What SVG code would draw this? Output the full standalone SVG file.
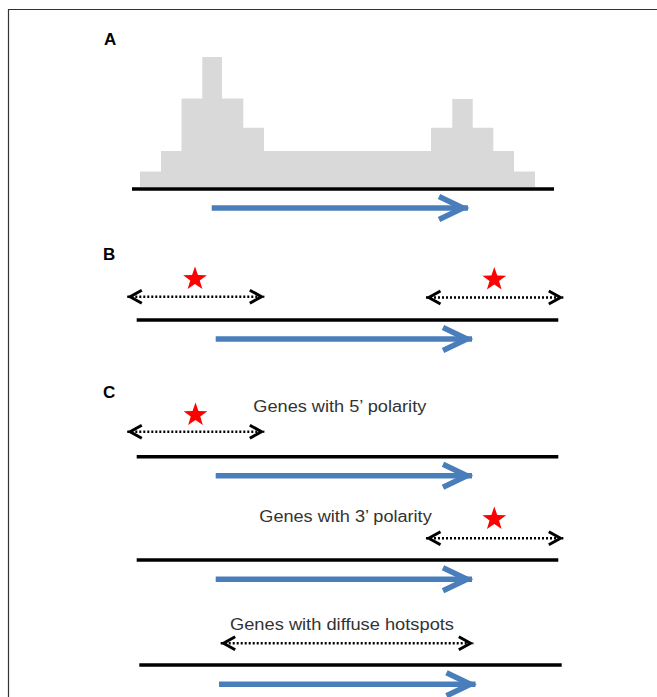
<svg xmlns="http://www.w3.org/2000/svg" width="657" height="697" viewBox="0 0 657 697">
<style>
.lbl{font-family:"Liberation Sans",Arial,sans-serif;font-weight:bold;font-size:17px;fill:#000}
.cap{font-family:"Liberation Sans",Arial,sans-serif;font-size:16px;fill:#333}
.gene{stroke:#000;stroke-width:3.5;fill:none}
.tx{stroke:#4a7ebb;stroke-width:5.5;fill:none;marker-end:url(#blueHead)}
.dot{stroke:#000;stroke-width:2.6;stroke-dasharray:2 2;fill:none;marker-start:url(#blackHead);marker-end:url(#blackHead)}
.star{fill:#ff0000}
.hist{fill:#d9d9d9}
</style>
<defs>
<marker id="blueHead" markerUnits="userSpaceOnUse" orient="auto" markerWidth="40" markerHeight="40" refX="0" refY="0" viewBox="-30 -15 40 30" overflow="visible">
<path d="M-29,-11.5 L-5,0 L-29,11.5" fill="none" stroke="#4a7ebb" stroke-width="5.5"/>
</marker>
<marker id="blackHead" markerUnits="userSpaceOnUse" orient="auto-start-reverse" markerWidth="20" markerHeight="20" refX="0" refY="0" viewBox="-16 -8 20 16" overflow="visible">
<path d="M-14.5,-6.5 L-2.8,0 L-14.5,6.5" fill="none" stroke="#000" stroke-width="3"/>
</marker>
<path id="starShape" d="M0,-12.5 L2.94,-4.05 L11.89,-3.86 L4.75,1.54 L7.35,10.11 L0,5 L-7.35,10.11 L-4.75,1.54 L-11.89,-3.86 L-2.94,-4.05 Z"/>
</defs>
<rect x="0" y="0" width="657" height="697" fill="#fff"/>
<path d="M8.5,697 L8.5,9.5 L657,9.5" fill="none" stroke="#333" stroke-width="1.2"/>

<g id="panelA">
<text class="lbl" x="104" y="45">A</text>
<path class="hist" d="M140,187 L140,171.5 L161,171.5 L161,151 L181.5,151 L181.5,98.5 L202.3,98.5 L202.3,57 L222,57 L222,98.5 L243.3,98.5 L243.3,127.7 L264,127.7 L264,151 L431,151 L431,127.7 L452.3,127.7 L452.3,99 L472.7,99 L472.7,127.7 L493.3,127.7 L493.3,151 L514,151 L514,171.5 L535,171.5 L535,187 Z"/>
<line class="gene" x1="132" y1="189" x2="554" y2="189"/>
<line class="tx" x1="211.7" y1="208" x2="468" y2="208"/>
</g>

<g id="panelB">
<text class="lbl" x="103" y="260">B</text>
<line class="gene" x1="136.7" y1="320" x2="558.3" y2="320"/>
<line class="tx" x1="215.7" y1="339" x2="472" y2="339"/>
<line class="dot" x1="127.3" y1="296.7" x2="264.3" y2="296.7"/>
<line class="dot" x1="426" y1="297.5" x2="563.3" y2="297.5"/>
<use class="star" href="#starShape" x="195" y="279"/>
<use class="star" href="#starShape" x="494.3" y="279.5"/>
</g>

<g id="panelC1">
<text class="lbl" x="103" y="398">C</text>
<text class="cap" x="253.3" y="411.5" textLength="173" lengthAdjust="spacingAndGlyphs">Genes with 5’ polarity</text>
<line class="dot" x1="127.3" y1="431.7" x2="264.3" y2="431.7"/>
<use class="star" href="#starShape" x="195.5" y="415"/>
<line class="gene" x1="136.7" y1="456.7" x2="558.3" y2="456.7"/>
<line class="tx" x1="215.7" y1="475.7" x2="472" y2="475.7"/>
</g>

<g id="panelC2">
<text class="cap" x="259.3" y="521.5" textLength="172.4" lengthAdjust="spacingAndGlyphs">Genes with 3’ polarity</text>
<line class="dot" x1="426" y1="538.3" x2="563.3" y2="538.3"/>
<use class="star" href="#starShape" x="494.3" y="519"/>
<line class="gene" x1="136.7" y1="560" x2="558.3" y2="560"/>
<line class="tx" x1="215.7" y1="579.3" x2="472" y2="579.3"/>
</g>

<g id="panelC3">
<text class="cap" x="230" y="630" textLength="224" lengthAdjust="spacingAndGlyphs">Genes with diffuse hotspots</text>
<line class="dot" x1="220.7" y1="643.3" x2="473.3" y2="643.3"/>
<line class="gene" x1="139.3" y1="665" x2="561.7" y2="665"/>
<line class="tx" x1="219" y1="684.3" x2="475.5" y2="684.3"/>
</g>
</svg>
